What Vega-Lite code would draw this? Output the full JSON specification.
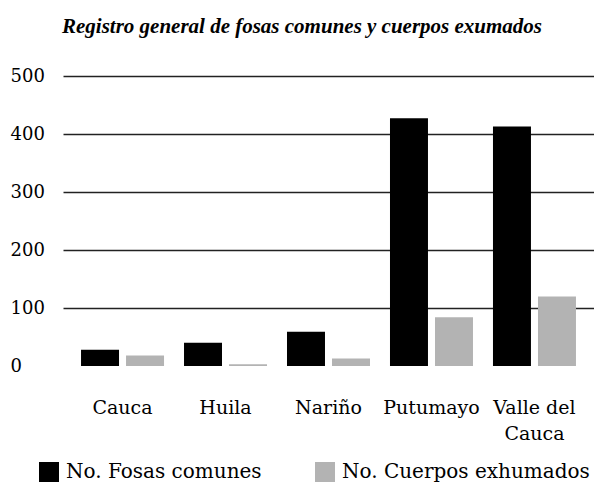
{
  "$schema": "https://vega.github.io/schema/vega-lite/v6.json",
  "width": 531,
  "height": 290,
  "autosize": {"type": "none"},
  "padding": {"left": 63, "top": 76, "right": 0, "bottom": 119},
  "background": "white",
  "title": {
    "text": "Registro general de fosas comunes y cuerpos exumados",
    "font": "Liberation Serif",
    "fontSize": 21,
    "fontStyle": "italic",
    "fontWeight": "bold",
    "color": "#000000",
    "anchor": "middle",
    "frame": "bounds",
    "offset": 30
  },
  "config": {
    "view": {"stroke": null},
    "font": "DejaVu Serif"
  },
  "data": {
    "values": [
      {"dept": "Cauca", "serie": "No. Fosas comunes", "valor": 28},
      {"dept": "Cauca", "serie": "No. Cuerpos exhumados", "valor": 18},
      {"dept": "Huila", "serie": "No. Fosas comunes", "valor": 40},
      {"dept": "Huila", "serie": "No. Cuerpos exhumados", "valor": 3},
      {"dept": "Nariño", "serie": "No. Fosas comunes", "valor": 59},
      {"dept": "Nariño", "serie": "No. Cuerpos exhumados", "valor": 13},
      {"dept": "Putumayo", "serie": "No. Fosas comunes", "valor": 427},
      {"dept": "Putumayo", "serie": "No. Cuerpos exhumados", "valor": 84},
      {"dept": "Valle del Cauca", "serie": "No. Fosas comunes", "valor": 413},
      {"dept": "Valle del Cauca", "serie": "No. Cuerpos exhumados", "valor": 120}
    ]
  },
  "mark": {"type": "bar"},
  "encoding": {
    "x": {
      "field": "dept",
      "type": "nominal",
      "sort": null,
      "scale": {"paddingInner": 0, "paddingOuter": 0.078},
      "axis": {
        "title": null,
        "domain": false,
        "ticks": false,
        "tickSize": 0,
        "labelAngle": 0,
        "labelFont": "DejaVu Serif",
        "labelFontSize": 19,
        "labelColor": "#000000",
        "labelPadding": 32,
        "labelBaseline": "top",
        "labelLineHeight": 26,
        "labelExpr": "datum.value == 'Valle del Cauca' ? ['Valle del', 'Cauca'] : datum.label"
      }
    },
    "xOffset": {
      "field": "serie",
      "type": "nominal",
      "scale": {
        "domain": ["No. Fosas comunes", "No. Cuerpos exhumados"],
        "paddingInner": 0.156,
        "paddingOuter": 0.222
      }
    },
    "y": {
      "field": "valor",
      "type": "quantitative",
      "scale": {"domain": [0, 500], "nice": false},
      "axis": {
        "title": null,
        "values": [0, 100, 200, 300, 400, 500],
        "domain": false,
        "ticks": false,
        "tickSize": 0,
        "labelAlign": "left",
        "labelPadding": 53,
        "labelFont": "DejaVu Serif",
        "labelFontSize": 18,
        "labelColor": "#000000",
        "grid": true,
        "gridColor": "#222222",
        "gridWidth": 1.4,
        "gridOpacity": {"condition": {"test": "datum.value === 0", "value": 0}, "value": 1}
      }
    },
    "color": {
      "field": "serie",
      "type": "nominal",
      "scale": {
        "domain": ["No. Fosas comunes", "No. Cuerpos exhumados"],
        "range": ["#000000", "#b3b3b3"]
      },
      "legend": {
        "title": null,
        "orient": "none",
        "direction": "horizontal",
        "legendX": -24,
        "legendY": 386,
        "symbolType": "square",
        "symbolSize": 400,
        "symbolStrokeWidth": 0,
        "symbolOpacity": 1,
        "labelFont": "DejaVu Serif",
        "labelFontSize": 20,
        "labelLimit": 400,
        "labelColor": "#000000",
        "labelOffset": 7,
        "columnPadding": 53
      }
    }
  }
}
